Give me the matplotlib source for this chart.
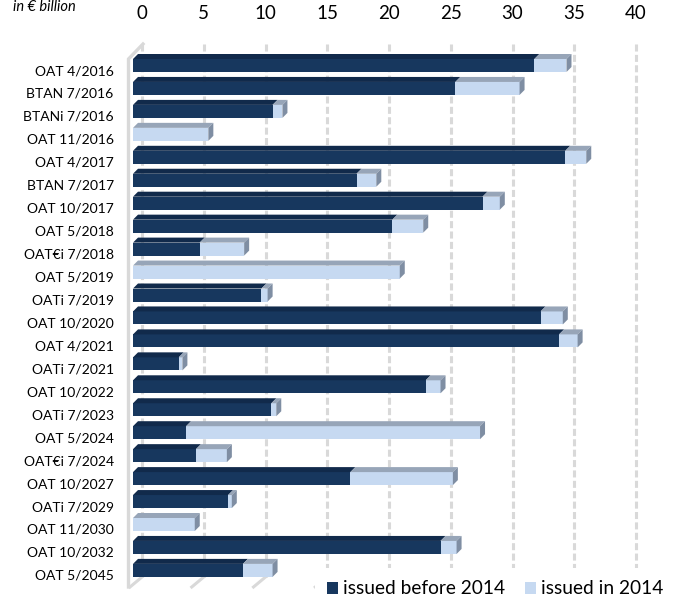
import numpy as np
import matplotlib
matplotlib.use("Agg")
import matplotlib.pyplot as plt
from matplotlib.patches import Polygon, Patch, Rectangle
from matplotlib.transforms import ScaledTranslation

plt.rcParams['font.family'] = ['Lato', 'DejaVu Sans']

# data, in € billion
bonds = ["OAT 4/2016", "BTAN 7/2016", "BTANi 7/2016", "OAT 11/2016", "OAT 4/2017",
         "BTAN 7/2017", "OAT 10/2017", "OAT 5/2018", "OAT€i 7/2018", "OAT 5/2019",
         "OATi 7/2019", "OAT 10/2020", "OAT 4/2021", "OATi 7/2021", "OAT 10/2022",
         "OATi 7/2023", "OAT 5/2024", "OAT€i 7/2024", "OAT 10/2027", "OATi 7/2029",
         "OAT 11/2030", "OAT 10/2032", "OAT 5/2045"]
issued_before = [32.5, 26.1, 11.3, 0.0, 35.0, 18.1, 28.3, 21.0, 5.4, 0.0, 10.4, 33.0,
                 34.5, 3.7, 23.7, 11.2, 4.3, 5.1, 17.6, 7.7, 0.0, 24.9, 8.9]
issued_2014 = [2.6, 5.2, 0.8, 6.1, 1.7, 1.6, 1.4, 2.5, 3.6, 21.6, 0.5, 1.8,
               1.5, 0.3, 1.2, 0.4, 23.8, 2.5, 8.3, 0.3, 5.0, 1.3, 2.4]
xticks = [0, 5, 10, 15, 20, 25, 30, 35, 40]
series_names = ["issued before 2014", "issued in 2014"]

# colours
DARK, DARK_TOP = '#17375E', '#112A4B'
LIGHT, LIGHT_TOP, LIGHT_SIDE = '#C6D9F1', '#97A5B8', '#7F8EA3'
GRID = '#D9D9D9'

# geometry (pixels)
W, H, DPI = 674, 598, 100
SX, X0 = 12.35, 133.0      # px per unit, front face zero
SY, Y0 = 22.95, 65.5       # px per row, first row centre
XLIM = (-1.0, 41.5)
YLIM = (22.9, -1.1)

fig = plt.figure(figsize=(W / DPI, H / DPI), dpi=DPI)
left_px = X0 + XLIM[0] * SX
right_px = X0 + XLIM[1] * SX
top_px = Y0 + YLIM[1] * SY
bot_px = Y0 + YLIM[0] * SY
ax = fig.add_axes([left_px / W, 1 - bot_px / H, (right_px - left_px) / W, (bot_px - top_px) / H])
ax.set_xlim(*XLIM)
ax.set_ylim(*YLIM)
for s in ax.spines.values():
    s.set_visible(False)

rows = np.arange(len(bonds))
before = np.array(issued_before)
in14 = np.array(issued_2014)
total = before + in14

# front faces
h = 13 / SY
ax.barh(rows, before, height=h, color=DARK, zorder=3)
ax.barh(rows, in14, left=before, height=h, color=LIGHT, zorder=3)

# 3d top and side faces
ddx, ddy = 5 / SX, 5 / SY
for i in rows:
    yt = i - h / 2
    yb = i + h / 2
    if before[i] > 0:
        ax.add_patch(Polygon([(0, yt), (before[i], yt), (before[i] + ddx, yt - ddy), (ddx, yt - ddy)],
                             closed=True, facecolor=DARK_TOP, edgecolor='none', zorder=3))
    if in14[i] > 0:
        ax.add_patch(Polygon([(before[i], yt), (total[i], yt), (total[i] + ddx, yt - ddy),
                              (before[i] + ddx, yt - ddy)],
                             closed=True, facecolor=LIGHT_TOP, edgecolor='none', zorder=3))
    ax.add_patch(Polygon([(total[i], yt), (total[i], yb), (total[i] + ddx, yb - ddy), (total[i] + ddx, yt - ddy)],
                         closed=True, facecolor=LIGHT_SIDE, edgecolor='none', zorder=3))

# back wall gridlines
back = ScaledTranslation(9 / DPI, 0, fig.dpi_scale_trans)
g_top = (44 - Y0) / SY
g_bot = (577 - Y0) / SY
ax.vlines(xticks, g_top, g_bot, colors=GRID, linewidth=2.2, linestyles=(0, (2.3, 1.1)),
          transform=ax.transData + back, zorder=1)
for v in xticks:
    ax.plot([v + 9 / SX, v + 9 / SX - 12 / SX], [g_bot, g_bot + 10 / SY], color=GRID,
            lw=2.2, zorder=1, clip_on=False)

# left side wall
wx = -4.5 / SX
ax.plot([10 / SX, wx, wx], [g_top, (59 - Y0) / SY, (587 - Y0) / SY], color=GRID, lw=2.4,
        zorder=1, clip_on=False, solid_joinstyle='miter')

# ticks
ax.xaxis.tick_top()
ax.set_xticks(xticks)
ax.set_xticklabels([str(v) for v in xticks], fontsize=13.5)
ax.tick_params(axis='x', length=0, pad=13)
for lab in ax.get_xticklabels():
    lab.set_transform(lab.get_transform() + back)

ax.set_yticks(rows)
ax.set_yticklabels(bonds, fontsize=10)
ax.tick_params(axis='y', length=0, pad=5)
down = ScaledTranslation(0, -4.5 / DPI, fig.dpi_scale_trans)
for lab in ax.get_yticklabels():
    lab.set_transform(lab.get_transform() + down)

fig.text(13 / W, 1 - 11 / H, "in € billion", fontsize=10.5, style='italic', va='baseline')

# legend area covers the floor
fig.add_artist(Rectangle((315 / W, 0), 1 - 315 / W, 30 / H, transform=fig.transFigure,
                         facecolor='white', edgecolor='none', zorder=4))
handles = [Patch(facecolor=DARK), Patch(facecolor=LIGHT)]
fig.legend(handles, series_names, loc='center right', bbox_to_anchor=(663 / W, 1 - 589 / H), ncol=2,
           fontsize=13.8, frameon=False, handlelength=0.6, handleheight=0.62, handletextpad=0.22,
           columnspacing=1.05, borderpad=0, borderaxespad=0)

fig.savefig("out.png", dpi=DPI)
